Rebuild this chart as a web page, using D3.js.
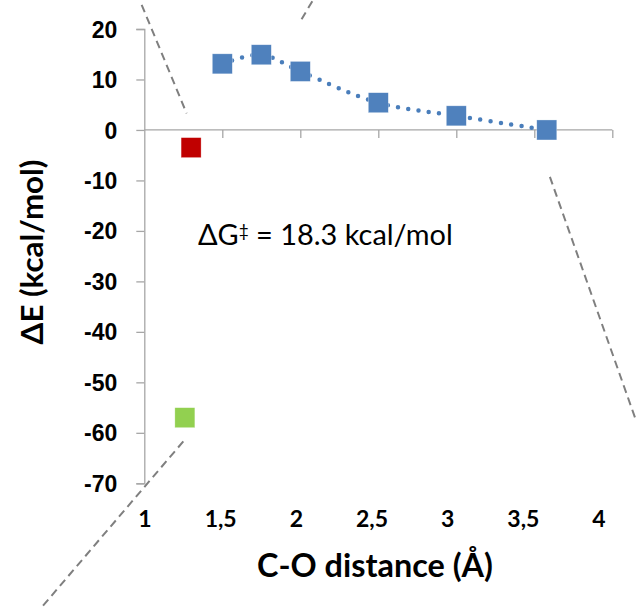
<!DOCTYPE html>
<html>
<head>
<meta charset="utf-8">
<script src="https://cdn.jsdelivr.net/npm/d3@7"></script>
<style>
  html, body { margin: 0; padding: 0; background: #fff; }
  svg { display: block; font-family: Lato, "Open Sans", sans-serif; }
</style>
</head>
<body>
<svg id="chart" width="637" height="608"></svg>
<script>
// scan series (blue), plus two single points
var scanX = [1.5, 1.75, 2, 2.5, 3, 3.58],
    scanY = [13.1, 14.9, 11.6, 5.4, 2.8, 0];
var redPoint = [1.3, -3.5],
    greenPoint = [1.26, -57];

var xTicks = [1, 1.5, 2, 2.5, 3, 3.5, 4],
    yTicks = [20, 10, 0, -10, -20, -30, -40, -50, -60, -70];

// dashed connector lines (data units), leftovers of the zoom-in figure
var guides = [
  [[0.983, 24.8], [1.271, 3.3]],
  [[2.077, 25.5], [2.0, 21.5]],
  [[3.60, -9.3], [4.155, -57.8]],
  [[1.25, -61.7], [0.33, -95]]
];

var svg = d3.select("#chart"),
    axisColor = "#a6a6a6";

var x = d3.scaleLinear().domain([1, 4]).range([144.3, 612.3]),
    // tick labels sit on a slightly narrower spacing than the ticks
    xLab = d3.scaleLinear().domain([1, 4]).range([145, 599]),
    y = d3.scaleLinear().domain([-70, 20]).range([483.3, 29]);

var fmt = function(d) { return String(d).replace(".", ","); };

// grow / shrink the font so a text ends up as wide as in the original
function fitWidth(text, width) {
  var size = +text.attr("font-size"),
      w = text.node().getComputedTextLength();
  text.attr("font-size", size * width / w);
}

// y axis
var yAxis = svg.append("g").attr("transform", "translate(" + x(1) + ",0)")
    .call(d3.axisLeft(y).tickValues(yTicks).tickSize(8).tickPadding(19).tickFormat(fmt));
yAxis.select(".domain").attr("stroke", axisColor).attr("stroke-width", 1.3);
yAxis.selectAll(".tick line").attr("stroke", axisColor).attr("stroke-width", 1.3);
yAxis.selectAll(".tick text")
    .attr("font-size", 23).attr("font-weight", "bold").attr("fill", "#000").attr("dy", "0.35em");

// x axis line crosses at y = 0, labels go at the bottom
var xAxis = svg.append("g").attr("transform", "translate(0," + y(0) + ")")
    .call(d3.axisBottom(x).tickValues(xTicks).tickSize(8).tickFormat(""));
xAxis.select(".domain").attr("stroke", axisColor).attr("stroke-width", 1.3)
    .attr("d", "M" + x(1) + ",0H" + x(4));
xAxis.selectAll(".tick line").attr("stroke", axisColor).attr("stroke-width", 1.3);
xAxis.selectAll(".tick").filter(d => d === 1).remove();

svg.append("g").selectAll("text")
    .data(xTicks)
    .enter()
    .append("text")
    .attr("x", d => xLab(d))
    .attr("y", 527)
    .attr("text-anchor", "middle")
    .attr("font-size", 23)
    .attr("font-weight", "bold")
    .text(fmt);

// guides
svg.append("g").selectAll("line")
    .data(guides)
    .enter()
    .append("line")
    .attr("x1", d => x(d[0][0])).attr("y1", d => y(d[0][1]))
    .attr("x2", d => x(d[1][0])).attr("y2", d => y(d[1][1]))
    .attr("stroke", "#7f7f7f")
    .attr("stroke-width", 2)
    .attr("stroke-dasharray", "8,5");

// smoothed dotted line through the scan
var line = d3.line()
    .x(d => x(d[0]))
    .y(d => y(d[1]))
    .curve(d3.curveCatmullRom.alpha(0.5));

var scan = scanX.map((v, i) => [v, scanY[i]]);

svg.append("path")
    .datum(scan)
    .attr("d", line)
    .attr("fill", "none")
    .attr("stroke", "#4a7ebb")
    .attr("stroke-width", 4.5)
    .attr("stroke-linecap", "round")
    .attr("stroke-dasharray", "0,10.4");

var size = 20;

function squares(data, color) {
  svg.append("g").selectAll("rect")
      .data(data)
      .enter()
      .append("rect")
      .attr("x", d => x(d[0]) - size / 2)
      .attr("y", d => y(d[1]) - size / 2)
      .attr("width", size)
      .attr("height", size)
      .attr("fill", color)
      .attr("stroke", "#fff")
      .attr("stroke-opacity", 0.5)
      .attr("stroke-width", 0.6);
}

squares(scan, "#4f81bd");
squares([redPoint], "#c00000");
squares([greenPoint], "#92d050");

// barrier annotation, with a raised double dagger
var note = svg.append("text")
    .attr("x", x(1.344))
    .attr("y", y(-22.8))
    .attr("font-size", 22);
note.append("tspan").text("ΔG");
note.append("tspan").attr("dy", -8).attr("font-size", "0.6em").text("‡");
note.append("tspan").attr("dy", 8).text(" = 18.3 kcal/mol");
fitWidth(note, 255);

// axis titles
var xTitle = svg.append("text")
    .attr("x", 375)
    .attr("y", 577)
    .attr("text-anchor", "middle")
    .attr("font-size", 27)
    .attr("font-weight", "bold")
    .text("C-O distance (Å)");
fitWidth(xTitle, 236);

var yTitle = svg.append("text")
    .attr("transform", "translate(43,252) rotate(-90)")
    .attr("text-anchor", "middle")
    .attr("font-size", 27)
    .attr("font-weight", "bold")
    .text("ΔE (kcal/mol)");
fitWidth(yTitle, 185);
</script>
</body>
</html>
